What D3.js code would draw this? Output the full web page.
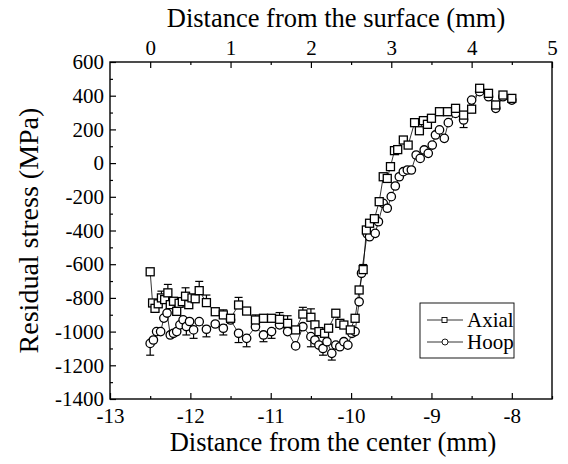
<!DOCTYPE html>
<html>
<head>
<meta charset="utf-8">
<script src="https://cdn.jsdelivr.net/npm/d3@7"></script>
<style>
  body { margin: 0; background: #fff; }
  svg text { font-family: "Liberation Serif", "Times New Roman", Times, "DejaVu Serif", serif; fill: #000; }
</style>
</head>
<body>
<svg id="chart" width="568" height="464"></svg>
<script>
// axial series: distance from center (mm), stress (MPa), error bar (MPa)
const axialX = [-12.50, -12.47, -12.44, -12.40, -12.36, -12.32, -12.28, -12.25, -12.21, -12.17, -12.14, -12.10, -12.06, -12.02, -11.98, -11.94, -11.89, -11.80, -11.69, -11.59, -11.50, -11.40, -11.30, -11.19, -11.09, -10.99, -10.89, -10.79, -10.69, -10.60, -10.50, -10.45, -10.40, -10.33, -10.28, -10.19, -10.14, -10.09, -10.01, -9.95, -9.90, -9.85, -9.81, -9.77, -9.71, -9.65, -9.60, -9.55, -9.51, -9.46, -9.42, -9.35, -9.29, -9.21, -9.15, -9.10, -9.05, -9.00, -8.90, -8.80, -8.70, -8.60, -8.50, -8.40, -8.29, -8.20, -8.11, -8.00];
const axialY = [-645, -830, -862, -835, -800, -810, -770, -840, -820, -880, -832, -822, -790, -840, -800, -805, -757, -828, -882, -901, -921, -842, -878, -931, -921, -921, -927, -951, -990, -896, -915, -960, -1000, -1010, -980, -891, -951, -961, -990, -921, -753, -632, -397, -357, -330, -229, -81, -91, -21, 74, 80, 137, 107, 240, 192, 252, 230, 266, 305, 305, 325, 285, 320, 444, 414, 345, 404, 384];
const axialErr = [0, 0, 0, 0, 40, 0, 50, 0, 0, 0, 0, 0, 50, 0, 0, 0, 55, 45, 0, 30, 0, 45, 0, 30, 0, 0, 40, 45, 0, 40, 50, 0, 0, 0, 0, 0, 0, 0, 0, 0, 0, 30, 0, 0, 0, 0, 0, 0, 0, 0, 0, 0, 0, 0, 0, 0, 0, 0, 0, 0, 0, 0, 0, 0, 0, 0, 0, 0];

// hoop series
const hoopX = [-12.50, -12.46, -12.42, -12.37, -12.33, -12.29, -12.25, -12.21, -12.17, -12.13, -12.09, -12.05, -12.01, -11.96, -11.89, -11.80, -11.69, -11.59, -11.50, -11.40, -11.30, -11.19, -11.09, -10.99, -10.89, -10.79, -10.69, -10.60, -10.50, -10.45, -10.40, -10.35, -10.30, -10.24, -10.19, -10.14, -10.09, -10.04, -9.99, -9.95, -9.90, -9.87, -9.80, -9.77, -9.70, -9.66, -9.60, -9.55, -9.50, -9.45, -9.40, -9.35, -9.30, -9.25, -9.19, -9.14, -9.09, -9.04, -8.99, -8.95, -8.90, -8.84, -8.79, -8.70, -8.60, -8.50, -8.40, -8.29, -8.20, -8.11, -8.00];
const hoopY = [-1070, -1050, -1000, -1000, -920, -890, -1020, -1010, -1000, -960, -930, -970, -940, -990, -941, -986, -955, -980, -931, -1010, -1040, -971, -1020, -1000, -960, -1000, -1085, -971, -1030, -1050, -1080, -1100, -1060, -1129, -1080, -1090, -1060, -1080, -1010, -1000, -823, -654, -420, -437, -417, -348, -239, -268, -199, -136, -81, -51, -41, -41, 48, 28, 78, 58, 107, 167, 197, 147, 240, 295, 256, 374, 424, 394, 325, 394, 374];
const hoopErr = [70, 0, 0, 0, 0, 0, 0, 0, 0, 0, 0, 50, 0, 50, 0, 45, 0, 40, 0, 55, 50, 0, 40, 40, 0, 0, 0, 0, 60, 0, 0, 40, 0, 40, 0, 0, 0, 0, 0, 0, 0, 0, 0, 0, 0, 0, 0, 0, 0, 0, 0, 0, 0, 0, 0, 0, 0, 0, 0, 0, 0, 0, 0, 0, 45, 0, 0, 0, 0, 0, 0];

const bottomTicks = [-13, -12, -11, -10, -9, -8];
const topTicks = [0, 1, 2, 3, 4, 5];
const yTicks = [600, 400, 200, 0, -200, -400, -600, -800, -1000, -1200, -1400];
const legendNames = ["Axial", "Hoop"];

const serif = '"Liberation Serif", "Times New Roman", Times, "DejaVu Serif", serif';
const svg = d3.select("#chart");

// plot frame
const pLeft = 110, pRight = 552, pTop = 62, pBottom = 399;

const x = d3.scaleLinear().domain([-13, -7.5]).range([pLeft, pRight]);
const xTop = d3.scaleLinear().domain([-0.5, 5]).range([pLeft, pRight]);
const y = d3.scaleLinear().domain([-1400, 600]).range([pBottom, pTop]);

// plain hyphen instead of d3's unicode minus
const fmt = d => d < 0 ? "-" + Math.abs(d) : String(d);

// minor ticks first, so major ones sit on top
svg.append("g")
    .attr("transform", `translate(0,${pBottom})`)
    .call(d3.axisBottom(x).tickValues(d3.range(-12.5, -7.4, 1)).tickSize(-3).tickFormat(""));
svg.append("g")
    .attr("transform", `translate(0,${pTop})`)
    .call(d3.axisTop(xTop).tickValues(d3.range(0.5, 5, 1)).tickSize(-3).tickFormat(""));
svg.append("g")
    .attr("transform", `translate(${pLeft},0)`)
    .call(d3.axisLeft(y).tickValues(d3.range(-1300, 600, 200)).tickSize(-3).tickFormat(""));

const gx = svg.append("g")
    .attr("transform", `translate(0,${pBottom})`)
    .call(d3.axisBottom(x).tickValues(bottomTicks).tickSize(-6).tickPadding(9).tickFormat(fmt));
const gxt = svg.append("g")
    .attr("transform", `translate(0,${pTop})`)
    .call(d3.axisTop(xTop).tickValues(topTicks).tickSize(-6).tickPadding(7).tickFormat(fmt));
const gy = svg.append("g")
    .attr("transform", `translate(${pLeft},0)`)
    .call(d3.axisLeft(y).tickValues(yTicks).tickSize(-6).tickPadding(6).tickFormat(fmt));

svg.selectAll("g").attr("font-family", null);
svg.selectAll(".domain").remove();
svg.selectAll(".tick line").attr("stroke", "#000").attr("stroke-width", 1.2);
[gx, gxt, gy].forEach(g => g.selectAll("text")
    .attr("font-family", serif)
    .style("font-family", serif)
    .style("font-size", "21px"));

// frame
svg.append("rect")
    .attr("x", pLeft).attr("y", pTop)
    .attr("width", pRight - pLeft).attr("height", pBottom - pTop)
    .attr("fill", "none").attr("stroke", "#000").attr("stroke-width", 1.4);

// titles
svg.append("text")
    .attr("x", 336).attr("y", 27)
    .attr("text-anchor", "middle").style("font-family", serif).style("font-size", "26.5px")
    .text("Distance from the surface (mm)");
svg.append("text")
    .attr("x", 333).attr("y", 451)
    .attr("text-anchor", "middle").style("font-family", serif).style("font-size", "26.5px")
    .text("Distance from the center (mm)");
svg.append("text")
    .attr("transform", `translate(38,${(pTop + pBottom) / 2}) rotate(-90)`)
    .attr("text-anchor", "middle").style("font-family", serif).style("font-size", "28px")
    .text("Residual stress (MPa)");

function makeSeries(xs, ys, errs, dir) {
    return xs.map((v, i) => ({ x: v, y: ys[i], e: errs[i] * dir }));
}
const axial = makeSeries(axialX, axialY, axialErr, 1);
const hoop = makeSeries(hoopX, hoopY, hoopErr, -1);

const line = d3.line().x(d => x(d.x)).y(d => y(d.y));

const plot = svg.append("g");

// connecting lines
plot.append("path").datum(hoop)
    .attr("d", line).attr("fill", "none").attr("stroke", "#000").attr("stroke-width", 0.8);
plot.append("path").datum(axial)
    .attr("d", line).attr("fill", "none").attr("stroke", "#000").attr("stroke-width", 0.8);

// error bars (one-sided)
function drawErrors(data) {
    const eb = plot.append("g").selectAll("g").data(data.filter(d => d.e !== 0)).enter().append("g");
    eb.append("line")
        .attr("x1", d => x(d.x)).attr("x2", d => x(d.x))
        .attr("y1", d => y(d.y)).attr("y2", d => y(d.y + d.e))
        .attr("stroke", "#000").attr("stroke-width", 1.2);
    eb.append("line")
        .attr("x1", d => x(d.x) - 4).attr("x2", d => x(d.x) + 4)
        .attr("y1", d => y(d.y + d.e)).attr("y2", d => y(d.y + d.e))
        .attr("stroke", "#000").attr("stroke-width", 1.2);
}
drawErrors(hoop);
drawErrors(axial);

// markers
plot.append("g").selectAll("circle").data(hoop).enter().append("circle")
    .attr("cx", d => x(d.x)).attr("cy", d => y(d.y)).attr("r", 4.2)
    .attr("fill", "#fff").attr("stroke", "#000").attr("stroke-width", 1.3);
plot.append("g").selectAll("rect").data(axial).enter().append("rect")
    .attr("x", d => x(d.x) - 4).attr("y", d => y(d.y) - 4)
    .attr("width", 8).attr("height", 8)
    .attr("fill", "#fff").attr("stroke", "#000").attr("stroke-width", 1.3);

// legend
const legend = svg.append("g").attr("transform", "translate(420,303)");
legend.append("rect")
    .attr("width", 94).attr("height", 55)
    .attr("fill", "#fff").attr("stroke", "#000").attr("stroke-width", 0.9);
const rows = legend.selectAll("g.row").data(legendNames).enter().append("g")
    .attr("class", "row")
    .attr("transform", (d, i) => `translate(0,${17 + i * 22})`);
rows.append("line")
    .attr("x1", 7).attr("x2", 43).attr("y1", 0).attr("y2", 0)
    .attr("stroke", "#000").attr("stroke-width", 0.8);
rows.filter((d, i) => i === 0).append("rect")
    .attr("x", 22).attr("y", -2.5).attr("width", 5).attr("height", 5)
    .attr("fill", "#fff").attr("stroke", "#000").attr("stroke-width", 0.9);
rows.filter((d, i) => i === 1).append("circle")
    .attr("cx", 25).attr("cy", 0).attr("r", 3)
    .attr("fill", "#fff").attr("stroke", "#000").attr("stroke-width", 0.9);
rows.append("text")
    .attr("x", 47).attr("y", 7)
    .style("font-family", serif).style("font-size", "21px")
    .text(d => d);
</script>
</body>
</html>
